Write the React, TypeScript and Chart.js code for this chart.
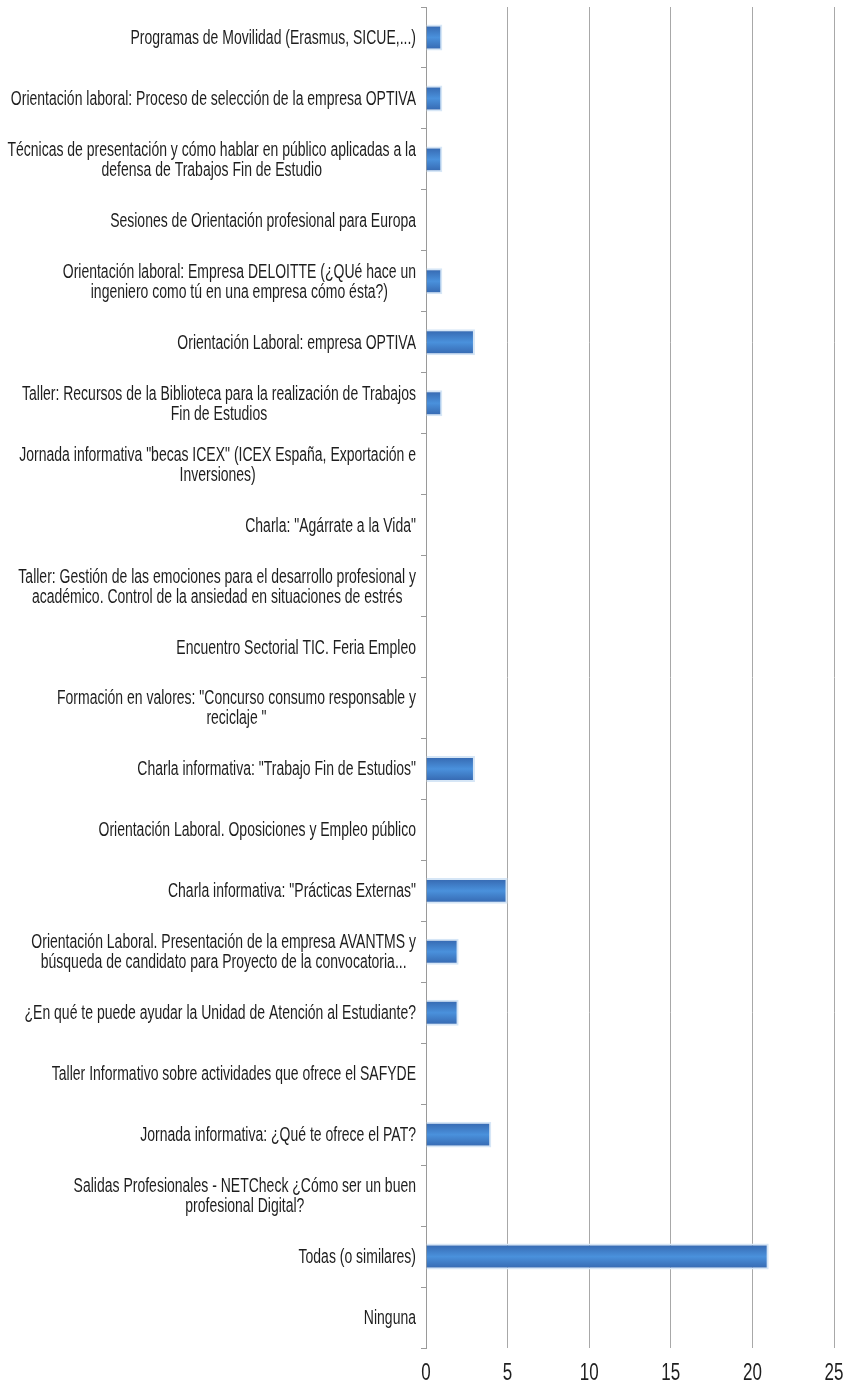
import React, { useEffect, useRef } from "react";
import { Chart, registerables } from "chart.js";

Chart.register(...registerables);

const categories: string[][] = [
  ["Programas de Movilidad (Erasmus, SICUE,...)"],
  ["Orientación laboral: Proceso de selección de la empresa OPTIVA"],
  ["Técnicas de presentación y cómo hablar en público aplicadas a la", "defensa de Trabajos Fin de Estudio"],
  ["Sesiones de Orientación profesional para Europa"],
  ["Orientación laboral: Empresa DELOITTE (¿QUé hace un", "ingeniero como tú en una empresa cómo ésta?)"],
  ["Orientación Laboral: empresa OPTIVA"],
  ["Taller: Recursos de la Biblioteca para la realización de Trabajos", "Fin de Estudios"],
  ["Jornada informativa \"becas ICEX\" (ICEX España, Exportación e", "Inversiones)"],
  ["Charla: \"Agárrate a la Vida\""],
  ["Taller: Gestión de las emociones para el desarrollo profesional y", "académico. Control de la ansiedad en situaciones de estrés"],
  ["Encuentro Sectorial TIC. Feria Empleo"],
  ["Formación en valores: \"Concurso consumo responsable y", "reciclaje \""],
  ["Charla informativa: \"Trabajo Fin de Estudios\""],
  ["Orientación Laboral. Oposiciones y Empleo público"],
  ["Charla informativa: \"Prácticas Externas\""],
  ["Orientación Laboral. Presentación de la empresa AVANTMS y", "búsqueda de candidato para Proyecto de la convocatoria..."],
  ["¿En qué te puede ayudar la Unidad de Atención al Estudiante?"],
  ["Taller Informativo sobre actividades que ofrece el SAFYDE"],
  ["Jornada informativa: ¿Qué te ofrece el PAT?"],
  ["Salidas Profesionales - NETCheck ¿Cómo ser un buen", "profesional Digital?"],
  ["Todas (o similares)"],
  ["Ninguna"],
];

const values: number[] = [1, 1, 1, 0, 1, 3, 1, 0, 0, 0, 0, 0, 3, 0, 5, 2, 2, 0, 4, 0, 21, 0];

const xMin = 0;
const xMax = 25;
const xStep = 5;

const FONT_FAMILY = "'Liberation Sans Narrow', 'Arial Narrow', 'Liberation Sans', sans-serif";
const Y_FONT = 14;
const X_FONT = 17;
const SCALE_Y = 1.4;
const LINE_GAP = 20;
const TEXT_COLOR = "#1e1e1e";

const labelPlugin = {
  id: "stretchedLabels",
  afterDraw(chart: any) {
    const ctx = chart.ctx as CanvasRenderingContext2D;
    const ys = chart.scales.y;
    const xs = chart.scales.x;
    ctx.save();
    ctx.fillStyle = TEXT_COLOR;
    ctx.font = `${Y_FONT}px ${FONT_FAMILY}`;
    ctx.textAlign = "center";
    ctx.textBaseline = "alphabetic";
    const rightEdge = ys.right - 10;
    const capH = Y_FONT * 0.716 * SCALE_Y;
    categories.forEach((lines, i) => {
      const cy = ys.getPixelForValue(i);
      const widest = Math.max(...lines.map((l) => ctx.measureText(l).width));
      const cx = rightEdge - widest / 2;
      const n = lines.length;
      lines.forEach((line, j) => {
        const ly = cy + (j - (n - 1) / 2) * LINE_GAP + capH / 2 - 0.5;
        ctx.save();
        ctx.translate(cx, ly);
        ctx.scale(1, SCALE_Y);
        ctx.fillText(line, 0, 0);
        ctx.restore();
      });
    });
    ctx.font = `${X_FONT}px ${FONT_FAMILY}`;
    const capX = X_FONT * 0.716 * SCALE_Y;
    xs.ticks.forEach((t: any) => {
      const px = xs.getPixelForValue(t.value);
      ctx.save();
      ctx.translate(px, 1371 + capX / 2);
      ctx.scale(1, SCALE_Y);
      ctx.fillText(String(t.value), 0, 0);
      ctx.restore();
    });
    ctx.restore();
  },
};

function barFill(c: any) {
  const chart = c.chart;
  const ys = chart.scales && chart.scales.y;
  if (!ys || !chart.chartArea || c.dataIndex === undefined) return "#3d7fcc";
  const cy = ys.getPixelForValue(c.dataIndex);
  if (!isFinite(cy)) return "#3d7fcc";
  const g = chart.ctx.createLinearGradient(0, cy - 13, 0, cy + 13);
  g.addColorStop(0, "#3465ad");
  g.addColorStop(0.5, "#4a91dc");
  g.addColorStop(1, "#3465ad");
  return g;
}

export default function App() {
  const ref = useRef<HTMLCanvasElement | null>(null);
  useEffect(() => {
    if (!ref.current) return;
    const chart = new Chart(ref.current, {
      type: "bar",
      data: {
        labels: categories.map((c) => c.join(" ")),
        datasets: [
          {
            data: values,
            backgroundColor: barFill,
            borderColor: "#d6e6f6",
            borderWidth: 2,
            barPercentage: 0.85,
            categoryPercentage: 0.5,
          },
        ],
      },
      options: {
        indexAxis: "y",
        animation: false,
        responsive: true,
        maintainAspectRatio: false,
        layout: { padding: { top: 7, right: 9, bottom: 0, left: 0 } },
        plugins: { legend: { display: false }, tooltip: { enabled: false } },
        scales: {
          x: {
            min: xMin,
            max: xMax,
            ticks: { stepSize: xStep, display: false },
            grid: { color: "#a8a8a8", lineWidth: 1, drawTicks: false },
            border: { display: false },
            afterFit: (s: any) => {
              s.height = 35;
            },
          },
          y: {
            ticks: { display: false },
            grid: {
              offset: true,
              drawOnChartArea: false,
              drawTicks: true,
              tickLength: 5,
              color: "#9a9a9a",
            },
            border: { display: true, color: "#9a9a9a", width: 1 },
            afterFit: (s: any) => {
              s.width = 426;
            },
          },
        },
      },
      plugins: [labelPlugin],
    });
    return () => chart.destroy();
  }, []);
  return (
    <div style={{ position: "absolute", left: 0, top: 0, width: 843, height: 1383 }}>
      <canvas ref={ref} />
    </div>
  );
}
